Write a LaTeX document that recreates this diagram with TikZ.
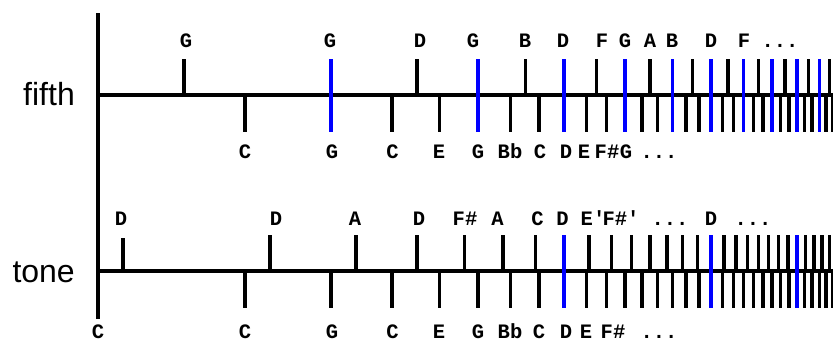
\documentclass[tikz,border=0pt]{standalone}
\usepackage{fontspec}
\setmainfont{Liberation Sans}
\setmonofont{Liberation Mono}
\newcommand\mydots{...}
\begin{document}
\begin{tikzpicture}[x=1pt,y=-1pt,
  tick/.style={line width=3.5pt},
  bluetick/.style={line width=3.3pt, draw=blue},
  axisline/.style={line width=4pt},
  lab/.style={font=\ttfamily\bfseries\fontsize{20.5}{20.5}\selectfont, inner sep=0pt, anchor=base},
  rowname/.style={font=\fontsize{32}{32}\selectfont, inner sep=0pt, anchor=base east}]
\useasboundingbox (0,0) rectangle (833,341);
\begin{scope}
\clip (0,0) rectangle (833,341);
% ---------------- fifth row ----------------
\draw[axisline] (98,95) -- (840,95);
\foreach \n in {2,...,32} {
  \pgfmathsetmacro\xx{98+212.0768*ln(\n)}
  \draw[tick] (\xx,95) -- (\xx,132);
}
\foreach \m in {1,3,...,21} {
  \pgfmathsetmacro\xx{98+212.0768*ln(1.5*\m)}
  \draw[tick] (\xx,59) -- (\xx,95);
}
\foreach \n in {3,6,...,30} {
  \pgfmathsetmacro\xx{98+212.0768*ln(\n)}
  \draw[bluetick] (\xx,59) -- (\xx,132);
}
% ---------------- tone row ----------------
\draw[axisline] (98,271) -- (840,271);
\foreach \n in {2,...,32} {
  \pgfmathsetmacro\xx{98+212.0768*ln(\n)}
  \draw[tick] (\xx,271) -- (\xx,307.5);
}
\foreach \m in {2,...,28} {
  \pgfmathsetmacro\xx{98+212.0768*ln(1.125*\m)}
  \draw[tick] (\xx,235) -- (\xx,271);
}
\pgfmathsetmacro\xx{98+212.0768*ln(1.125)}
\draw[tick] (\xx,238) -- (\xx,271);
\foreach \n in {9,18,27} {
  \pgfmathsetmacro\xx{98+212.0768*ln(\n)}
  \draw[bluetick] (\xx,235) -- (\xx,307.5);
}
\end{scope}
% vertical axis
\draw[line width=4.5pt] (98,13) -- (98,319);
% row names
\node[rowname] (fifthlab) at (75,105) {fifth};
\node[rowname] (tonelab) at (75,282) {tone};
% labels
\foreach \x/\t [count=\i] in {186/G,330/G,420/D,473/G,525/B,563/D,602/F,625/G,650/A,672/B,711/D,744/F,780/\mydots}
  \node[lab] (fu\i) at (\x,47) {\t};
\foreach \x/\t [count=\i] in {245/C,332/G,392.5/C,439/E,478/G,510/Bb,540/C,566/D,584/E,607/F\#,626/G,659/\mydots}
  \node[lab] (fl\i) at (\x,158) {\t};
\foreach \x/\t [count=\i] in {121/D,276/D,355/A,419/D,465/F\#,497.5/A,537.5/C,562.5/D,593/E',621/F\#',670/\mydots,711/D,753/\mydots}
  \node[lab] (tu\i) at (\x,225) {\t};
\foreach \x/\t [count=\i] in {98/C,245/C,332/G,392.5/C,439/E,478/G,510/Bb,539/C,566/D,586/E,613/F\#,659/\mydots}
  \node[lab] (tl\i) at (\x,338.5) {\t};
\end{tikzpicture}
\end{document}
